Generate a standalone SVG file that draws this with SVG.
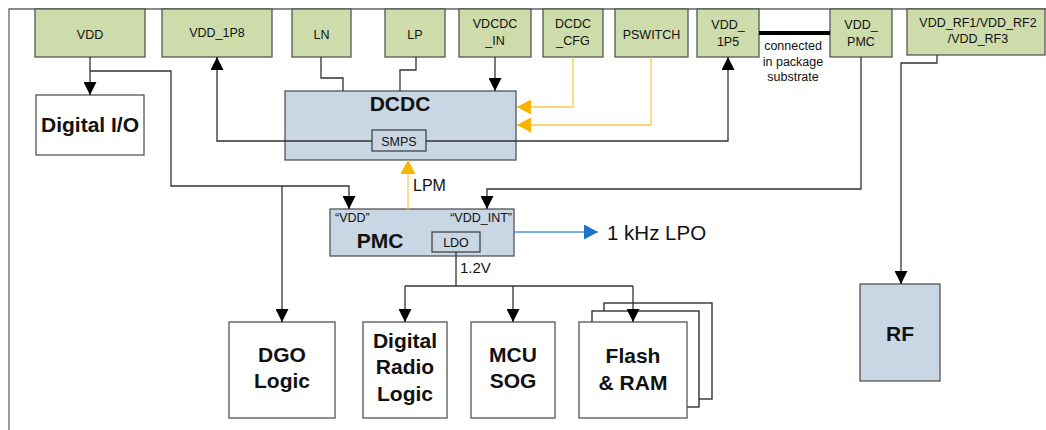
<svg xmlns="http://www.w3.org/2000/svg" width="1046" height="430" viewBox="0 0 1046 430">
<style>
text{font-family:"Liberation Sans",Arial,sans-serif;fill:#111}
.pin{fill:#cedcab;stroke:#555;stroke-width:1.3}
.blk{fill:#c9d6e4;stroke:#555;stroke-width:1.3}
.wb{fill:#fff;stroke:#555;stroke-width:1.3}
.sub{fill:none;stroke:#444;stroke-width:1.3}
.pt{font-size:12.5px;text-anchor:middle}
.big{font-size:21px;font-weight:bold;text-anchor:middle}
.sm{font-size:12.5px;text-anchor:middle}
.c{fill:none;stroke:#333;stroke-width:1.3}
.o{fill:none;stroke:#f8cb4e;stroke-width:1.3}
.b{fill:none;stroke:#4a96dc;stroke-width:1.3}
</style>
<defs>
<marker id="ak" markerUnits="userSpaceOnUse" markerWidth="13" markerHeight="13" refX="13" refY="6.5" orient="auto"><path d="M0,0 L13,6.5 L0,13 z" fill="#000"/></marker>
<marker id="ao" markerUnits="userSpaceOnUse" markerWidth="14" markerHeight="15" refX="14" refY="7.5" orient="auto"><path d="M0,0 L14,7.5 L0,15 z" fill="#f7b500"/></marker>
<marker id="ab" markerUnits="userSpaceOnUse" markerWidth="14" markerHeight="15" refX="14" refY="7.5" orient="auto"><path d="M0,0 L14,7.5 L0,15 z" fill="#1b74c9"/></marker>
</defs>
<rect width="1046" height="430" fill="#fff"/>
<g id="frame"><path d="M9,430 V9 H1046" fill="none" stroke="#666" stroke-width="1.3"/></g>

<g id="pin-vdd"><rect class="pin" x="35" y="9" width="110" height="48"/><text class="pt" x="90" y="39">VDD</text></g>
<g id="pin-vdd1p8"><rect class="pin" x="162" y="9" width="110" height="48"/><text class="pt" x="217" y="37">VDD_1P8</text></g>
<g id="pin-ln"><rect class="pin" x="292" y="9" width="59" height="48"/><text class="pt" x="321.5" y="39">LN</text></g>
<g id="pin-lp"><rect class="pin" x="385" y="9" width="60" height="48"/><text class="pt" x="415" y="39">LP</text></g>
<g id="pin-vdcdcin"><rect class="pin" x="459" y="9" width="72" height="48"/><text class="pt" x="495" y="28">VDCDC</text><text class="pt" x="495" y="45">_IN</text></g>
<g id="pin-dcdccfg"><rect class="pin" x="543" y="9" width="60" height="48"/><text class="pt" x="573" y="28">DCDC</text><text class="pt" x="573" y="45">_CFG</text></g>
<g id="pin-pswitch"><rect class="pin" x="615" y="9" width="73" height="48"/><text class="pt" x="651.5" y="39">PSWITCH</text></g>
<g id="pin-vdd1p5"><rect class="pin" x="697" y="9" width="62" height="48"/><text class="pt" x="728" y="29">VDD_</text><text class="pt" x="728" y="46">1P5</text></g>
<g id="pin-vddpmc"><rect class="pin" x="830" y="9" width="62" height="48"/><text class="pt" x="861" y="29">VDD_</text><text class="pt" x="861" y="46">PMC</text></g>
<g id="pin-vddrf"><rect class="pin" x="907" y="9" width="138" height="46"/><text class="pt" x="978" y="27">VDD_RF1/VDD_RF2</text><text class="pt" x="978" y="43">/VDD_RF3</text></g>

<g id="link-note"><text class="sm" x="793" y="50">connected</text><text class="sm" x="793" y="65.5">in package</text><text class="sm" x="793" y="81">substrate</text></g>

<g id="digital-io"><rect class="wb" x="36" y="95" width="108" height="60"/><text class="big" x="90" y="132">Digital I/O</text></g>

<g id="dcdc"><rect class="blk" x="285" y="91" width="231" height="69"/><text class="big" x="400" y="111">DCDC</text>
<rect class="sub" x="372" y="130" width="54" height="21"/><text class="sm" x="399" y="145.5">SMPS</text></g>

<g id="pmc"><rect class="blk" x="330" y="209" width="184" height="47"/>
<text x="335" y="222" style="font-size:12.5px">“VDD”</text>
<text x="512" y="222" style="font-size:12.5px;text-anchor:end">“VDD_INT”</text>
<text class="big" x="380" y="248">PMC</text>
<rect class="sub" x="432" y="232" width="48" height="20"/><text class="sm" x="456" y="246.5">LDO</text></g>

<g id="lpo-label"><text x="607" y="240" style="font-size:20.5px">1 kHz LPO</text></g>

<g id="dgo"><rect class="wb" x="229" y="322" width="106" height="96"/><text class="big" x="282" y="362">DGO</text><text class="big" x="282" y="388">Logic</text></g>
<g id="radio"><rect class="wb" x="363" y="322" width="84" height="96"/><text class="big" x="405" y="348">Digital</text><text class="big" x="405" y="374">Radio</text><text class="big" x="405" y="401">Logic</text></g>
<g id="mcu"><rect class="wb" x="471" y="322" width="84" height="96"/><text class="big" x="513" y="362">MCU</text><text class="big" x="513" y="388">SOG</text></g>
<g id="flash"><rect x="604" y="303" width="108" height="96" fill="#fff" stroke="#222" stroke-width="1.3"/><rect x="592" y="311" width="107" height="96" fill="#fff" stroke="#222" stroke-width="1.3"/><rect class="wb" x="579" y="322" width="108" height="96"/><text class="big" x="633" y="363">Flash</text><text class="big" x="633" y="390">&amp; RAM</text></g>
<g id="rf"><rect class="blk" x="860" y="284" width="80" height="97"/><text class="big" x="900" y="341">RF</text></g>

<g id="connectors">
<path d="M759,33 H830" stroke="#000" stroke-width="4" fill="none"/>
<path class="c" d="M90,57 V95" marker-end="url(#ak)"/>
<path class="c" d="M90,71 H171 V186 H349 V209" marker-end="url(#ak)"/>
<path class="c" d="M282,186 V322" marker-end="url(#ak)"/>
<path class="c" d="M321,57 V78 H343 V91"/>
<path class="c" d="M416,57 V70 H400 V91"/>
<path class="c" d="M495,57 V91" marker-end="url(#ak)"/>
<path class="o" d="M573,57 V107 H517" marker-end="url(#ao)"/>
<path class="o" d="M651,57 V125 H517" marker-end="url(#ao)"/>
<path class="c" d="M372,141 H217 V57" marker-end="url(#ak)"/>
<path class="c" d="M426,141 H728 V57" marker-end="url(#ak)"/>
<path class="o" d="M408,209 V160" marker-end="url(#ao)"/>
<path class="c" d="M861,57 V189 H487 V209" marker-end="url(#ak)"/>
<path class="b" d="M514,232 H598" marker-end="url(#ab)"/>
<path class="c" d="M456,252 V286"/>
<path class="c" d="M405,286 H633"/>
<path class="c" d="M405,286 V322" marker-end="url(#ak)"/>
<path class="c" d="M513,286 V322" marker-end="url(#ak)"/>
<path class="c" d="M633,286 V322" marker-end="url(#ak)"/>
<path class="c" d="M937,55 V63 H901 V284" marker-end="url(#ak)"/>
<text x="413" y="191" style="font-size:16px">LPM</text>
<text x="460" y="273" style="font-size:15px">1.2V</text>
</g>
</svg>
